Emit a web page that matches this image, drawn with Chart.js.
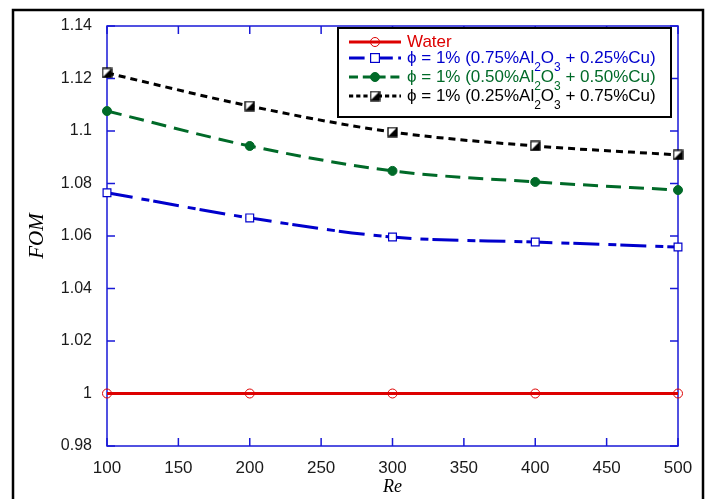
<!DOCTYPE html>
<html>
<head>
<meta charset="utf-8">
<script src="https://cdn.jsdelivr.net/npm/chart.js@4.4.1/dist/chart.umd.min.js"></script>
<style>
html,body{margin:0;padding:0;background:#fff;}
canvas{display:block;}
</style>
</head>
<body>
<canvas id="c" width="712" height="499"></canvas>
<script>
// ---- data ----
const reValues = [100, 200, 300, 400, 500];
const fomWater = [1.0, 1.0, 1.0, 1.0, 1.0];
const fom75Al = [1.0765, 1.0669, 1.0596, 1.0577, 1.0558];
const fom50Al = [1.1076, 1.0943, 1.0848, 1.0806, 1.0775];
const fom25Al = [1.1221, 1.1095, 1.0996, 1.0943, 1.0909];
const xTickValues = [100, 150, 200, 250, 300, 350, 400, 450, 500];
const yTickValues = [0.98, 1.0, 1.02, 1.04, 1.06, 1.08, 1.1, 1.12, 1.14];
const legendLabels = [
  ['Water'],
  ['\u03D5 = 1% (0.75%Al', '2', 'O', '3', ' + 0.25%Cu)'],
  ['\u03D5 = 1% (0.50%Al', '2', 'O', '3', ' + 0.50%Cu)'],
  ['\u03D5 = 1% (0.25%Al', '2', 'O', '3', ' + 0.75%Cu)']
];

const RED = '#dd0000', BLUE = '#0000cc', GREEN = '#006a28', BLACK = '#000000';
const AXIS = 'rgb(25,25,215)';

function halfSquare(size) {
  const c = document.createElement('canvas');
  c.width = size + 2; c.height = size + 2;
  const g = c.getContext('2d');
  g.fillStyle = '#fff';
  g.fillRect(1, 1, size, size);
  g.fillStyle = '#000';
  g.beginPath();
  g.moveTo(1 + size, 1);
  g.lineTo(1 + size, 1 + size);
  g.lineTo(1, 1 + size);
  g.closePath();
  g.fill();
  g.strokeStyle = '#000';
  g.lineWidth = 1.3;
  g.strokeRect(1, 1, size, size);
  return c;
}
const halfSq = halfSquare(9);

const toXY = arr => arr.map((v, i) => ({x: reValues[i], y: v}));

const datasets = [
  {data: toXY(fomWater), borderColor: RED, borderWidth: 3, borderDash: [],
   pointStyle: 'circle', pointRadius: 4.5, pointBorderWidth: 1, pointBorderColor: RED, pointBackgroundColor: 'rgba(0,0,0,0)'},
  {data: toXY(fom75Al), borderColor: BLUE, borderWidth: 3, borderDash: [26, 9, 8, 4],
   pointStyle: 'rect', pointRadius: 5.5, pointBorderWidth: 1.2, pointBorderColor: BLUE, pointBackgroundColor: '#fff'},
  {data: toXY(fom50Al), borderColor: GREEN, borderWidth: 3, borderDash: [15, 8],
   pointStyle: 'circle', pointRadius: 4.5, pointBorderWidth: 1, pointBorderColor: GREEN, pointBackgroundColor: GREEN},
  {data: toXY(fom25Al), borderColor: BLACK, borderWidth: 3, borderDash: [7, 5],
   pointStyle: halfSq, pointRadius: 5, pointBorderWidth: 1, pointBorderColor: BLACK, pointBackgroundColor: BLACK}
];
datasets.forEach(d => { d.cubicInterpolationMode = 'monotone'; d.fill = false; d.clip = false; });

const textColors = [RED, BLUE, GREEN, BLACK];

function drawMarker(ctx, ds, x, y) {
  ctx.save();
  ctx.setLineDash([]);
  if (ds.pointStyle instanceof HTMLCanvasElement) {
    ctx.drawImage(ds.pointStyle, x - ds.pointStyle.width / 2, y - ds.pointStyle.height / 2);
  } else if (ds.pointStyle === 'rect') {
    const r = ds.pointRadius * 0.8;
    ctx.fillStyle = ds.pointBackgroundColor;
    ctx.fillRect(x - r, y - r, 2 * r, 2 * r);
    ctx.strokeStyle = ds.pointBorderColor; ctx.lineWidth = ds.pointBorderWidth;
    ctx.strokeRect(x - r, y - r, 2 * r, 2 * r);
  } else {
    ctx.beginPath();
    ctx.arc(x, y, ds.pointRadius, 0, Math.PI * 2);
    ctx.fillStyle = ds.pointBackgroundColor; ctx.fill();
    ctx.strokeStyle = ds.pointBorderColor; ctx.lineWidth = ds.pointBorderWidth; ctx.stroke();
  }
  ctx.restore();
}

const framePlugin = {
  id: 'frame',
  beforeDatasetsDraw(chart) {
    const {ctx, chartArea: a, scales} = chart;
    ctx.save();
    ctx.strokeStyle = AXIS;
    ctx.lineWidth = 1.5;
    ctx.strokeRect(a.left, a.top, a.right - a.left, a.bottom - a.top);
    ctx.beginPath();
    xTickValues.forEach(v => {
      const px = scales.x.getPixelForValue(v);
      ctx.moveTo(px, a.bottom); ctx.lineTo(px, a.bottom - 8);
      ctx.moveTo(px, a.top); ctx.lineTo(px, a.top + 8);
    });
    yTickValues.forEach(v => {
      const py = scales.y.getPixelForValue(v);
      ctx.moveTo(a.left, py); ctx.lineTo(a.left + 8, py);
      ctx.moveTo(a.right, py); ctx.lineTo(a.right - 8, py);
    });
    ctx.stroke();
    ctx.restore();
  },
  afterDraw(chart) {
    const {ctx} = chart;
    ctx.save();
    // outer frame
    ctx.strokeStyle = '#000';
    ctx.lineWidth = 2.5;
    ctx.strokeRect(13, 10, 690, 500);
    // legend box
    const bx = 338, by = 28, bw = 333, bh = 89;
    ctx.fillStyle = '#fff';
    ctx.fillRect(bx, by, bw, bh);
    ctx.lineWidth = 2;
    ctx.strokeRect(bx, by, bw, bh);
    const rows = [42, 58, 77, 96];
    const mainFont = '17px "Liberation Sans", Arial, sans-serif';
    const subFont = '12px "Liberation Sans", Arial, sans-serif';
    datasets.forEach((ds, i) => {
      const y = rows[i];
      ctx.save();
      ctx.strokeStyle = ds.borderColor;
      ctx.lineWidth = 3;
      ctx.setLineDash(ds.borderDash.length ? ds.borderDash.map(v => v * 0.6) : []);
      ctx.beginPath(); ctx.moveTo(349, y); ctx.lineTo(401, y); ctx.stroke();
      ctx.restore();
      drawMarker(ctx, ds, 375, y);
      let x = 407;
      ctx.fillStyle = textColors[i];
      ctx.textBaseline = 'middle';
      ctx.textAlign = 'left';
      legendLabels[i].forEach((part, j) => {
        const sub = (j === 1 || j === 3);
        ctx.font = sub ? subFont : mainFont;
        ctx.fillText(part, x, sub ? y + 10 : y);
        x += ctx.measureText(part).width;
      });
    });
    ctx.restore();
  }
};

new Chart(document.getElementById('c'), {
  type: 'line',
  data: {datasets},
  plugins: [framePlugin],
  options: {
    responsive: false,
    animation: false,
    devicePixelRatio: 1,
    layout: {padding: {top: 26, right: 34, left: 0, bottom: 0}},
    plugins: {legend: {display: false}, tooltip: {enabled: false}},
    scales: {
      x: {
        type: 'linear', min: 100, max: 500,
        afterBuildTicks: s => { s.ticks = xTickValues.map(v => ({value: v})); },
        afterFit: s => { s.height = 53; },
        grid: {display: false, drawTicks: false}, border: {display: false},
        ticks: {color: '#1a1a1a', padding: 12, maxRotation: 0, autoSkip: false,
                font: {family: '"Liberation Sans", Arial, sans-serif', size: 17}},
        title: {display: true, text: 'Re', color: '#000', padding: {top: 0, bottom: 1},
                font: {family: '"Liberation Serif", "Times New Roman", serif', size: 18, style: 'italic'}}
      },
      y: {
        type: 'linear', min: 0.98, max: 1.14,
        afterBuildTicks: s => { s.ticks = yTickValues.map(v => ({value: v})); },
        afterFit: s => { s.width = 107; },
        grid: {display: false, drawTicks: false}, border: {display: false},
        ticks: {color: '#1a1a1a', padding: 15, autoSkip: false,
                callback: v => String(parseFloat(Number(v).toFixed(2))),
                font: {family: '"Liberation Sans", Arial, sans-serif', size: 16}},
        title: {display: true, text: 'FOM', color: '#000', padding: {top: 25, bottom: 0},
                font: {family: '"Liberation Serif", "Times New Roman", serif', size: 21, style: 'italic'}}
      }
    }
  }
});
</script>
</body>
</html>
